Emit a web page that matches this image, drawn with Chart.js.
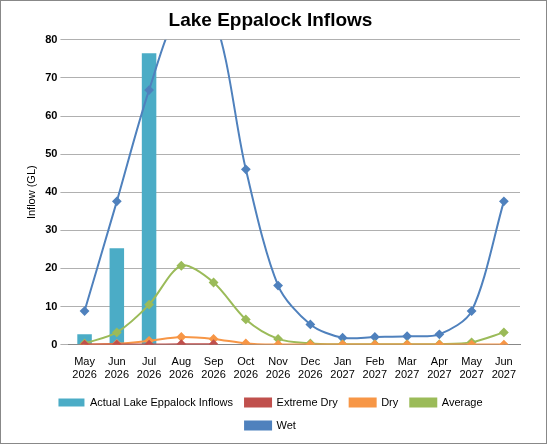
<!DOCTYPE html>
<html><head><meta charset="utf-8">
<script src="https://cdn.jsdelivr.net/npm/chart.js@4/dist/chart.umd.min.js"></script>
<style>
html,body{margin:0;padding:0;background:#fff;}
#wrap{position:absolute;left:0;top:0;width:545px;height:442px;border:1px solid #888;}
</style></head><body>
<div id="wrap"><canvas id="c"></canvas></div>
<script>
// ─── Data ─────────────────────────────────────────────────────────────────────
const months = [["May","2026"],["Jun","2026"],["Jul","2026"],["Aug","2026"],["Sep","2026"],["Oct","2026"],["Nov","2026"],["Dec","2026"],["Jan","2027"],["Feb","2027"],["Mar","2027"],["Apr","2027"],["May","2027"],["Jun","2027"]];
const actual     = [2.7, 25.3, 76.5, null, null, null, null, null, null, null, null, null, null, null];
const extremeDry = [0, 0, 0, 0.1, 0.1, null, null, null, null, null, null, null, null, null];
const dry        = [0, 0.2, 1.0, 2.0, 1.5, 0.3, 0, 0, 0, 0, 0, 0, 0, 0];
const average    = [0.3, 3.2, 10.5, 20.7, 16.3, 6.6, 1.5, 0.3, 0.1, 0.1, 0.1, 0.1, 0.6, 3.2];
const wet        = [8.8, 37.6, 66.8, 88, 86, 46, 15.5, 5.3, 1.8, 2.0, 2.2, 2.7, 8.8, 37.6];

const line = (label, data, color) => ({
  type: "line", label, data, borderColor: color, backgroundColor: color,
  borderWidth: 2, pointStyle: "rectRot", pointRadius: 3.5, tension: 0.3, spanGaps: false, order: 1
});

new Chart(document.getElementById("c"), {
  data: {
    labels: months,
    datasets: [
      { type: "bar", label: "Actual Lake Eppalock Inflows", data: actual,
        backgroundColor: "#4bacc6", barPercentage: 0.45, categoryPercentage: 1, order: 5 },
      line("Extreme Dry", extremeDry, "#c0504d"),
      line("Dry", dry, "#f79646"),
      line("Average", average, "#9bbb59"),
      line("Wet", wet, "#4f81bd")
    ]
  },
  options: {
    responsive: true, maintainAspectRatio: false, animation: false,
    layout: { padding: { left: 20, right: 26, top: 4, bottom: 2 } },
    scales: {
      x: { grid: { display: false }, border: { color: "#888" },
           ticks: { color: "#000", font: { family: "Liberation Sans", size: 11 }, maxRotation: 0, autoSkip: false } },
      y: { min: 0, max: 80, ticks: { stepSize: 10, color: "#000", font: { family: "Liberation Sans", size: 11, weight: "bold" } },
           grid: { color: "#b0b0b0" }, border: { display: false },
           title: { display: true, text: "Inflow (GL)", color: "#000", font: { family: "Liberation Sans", size: 11 } } }
    },
    plugins: {
      title: { display: true, text: "Lake Eppalock Inflows", color: "#000",
               font: { family: "Liberation Sans", size: 19, weight: "bold" }, padding: { top: 4, bottom: 8 } },
      legend: { position: "bottom", labels: { color: "#000", boxWidth: 26, boxHeight: 8, padding: 12,
                sort: (a, b) => a.datasetIndex - b.datasetIndex,
                font: { family: "Liberation Sans", size: 11 } } },
      tooltip: { enabled: false }
    }
  }
});
</script>
</body></html>
